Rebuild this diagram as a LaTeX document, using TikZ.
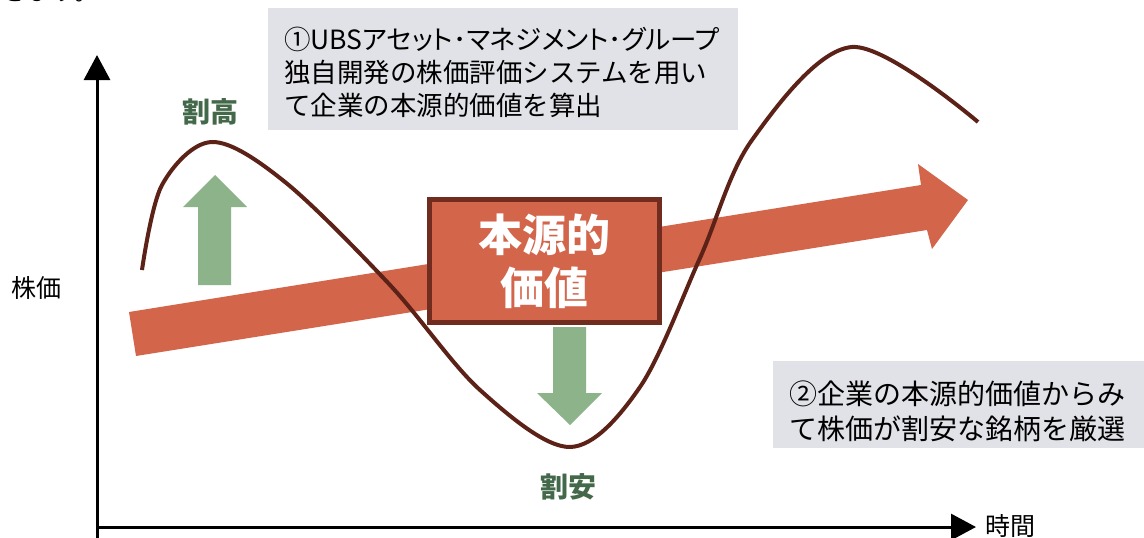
\documentclass[tikz,border=0pt]{standalone}
\usepackage{fontspec}
\setmainfont{Noto Sans CJK JP}
\usetikzlibrary{arrows.meta}
\definecolor{orangeC}{HTML}{D2654A}
\definecolor{borderC}{HTML}{6F2C1F}
\definecolor{curveC}{HTML}{5C2217}
\definecolor{greenA}{HTML}{8DB38B}
\definecolor{greenT}{HTML}{44694A}
\definecolor{grayBox}{HTML}{E1E2E7}
\tikzset{
  axis/.style={line width=3pt, -{Triangle[length=25pt,width=26pt]}},
  infobox/.style={fill=grayBox, draw=none},
  infotext/.style={align=left, inner sep=0pt, font=\fontsize{26.5}{33}\selectfont},
  greenlabel/.style={text=greenT, font=\fontsize{28}{30}\selectfont\bfseries},
  axislabel/.style={font=\fontsize{25}{27}\selectfont, inner sep=0pt},
  greenarrow/.style={fill=greenA, draw=none},
}
\begin{document}
\begin{tikzpicture}[x=1pt,y=-1pt]
\useasboundingbox (0,0) rectangle (1144,538);
\clip (0,0) rectangle (1144,538);
% cut-off text at top
\node[anchor=base west, inner sep=0pt, font=\fontsize{25}{27}\selectfont] (topfrag) at (2,0) {きます。};
% info boxes
\fill[infobox] (268,8) rectangle (738,130);
\node[infotext, anchor=west] (info1) at (284,72) {{\addfontfeature{RawFeature=+palt}①UBSアセット･マネジメント･グループ}\\独自開発の株価評価システムを用い\\て企業の本源的価値を算出};
\fill[infobox] (773,361) rectangle (1144,448);
\node[infotext, anchor=west, font=\fontsize{28}{35}\selectfont] (info2) at (789,411) {②企業の本源的価値からみ\\て株価が割安な銘柄を厳選};
% axes
\coordinate (origin) at (97,527);
\coordinate (ytip) at (97,55);
\coordinate (xtip) at (976,527);
\draw[axis] (97,538) -- (ytip);
\draw[axis] (97,527) -- (xtip);
\node[axislabel, anchor=west] (xlab) at (985,526) {時間};
\node[axislabel] (ylab) at (37,288) {株価};
% big orange arrow
\fill[orangeC] (129,312) -- (921,185) -- (918,164) -- (968,200) -- (932,249) -- (927,230) -- (136,356) -- cycle;
% curve
\draw[curveC, line width=4pt, line cap=butt] plot[smooth, tension=0.55] coordinates {
  (142,270) (162,185) (212,142) (285,182) (390,285) (480,390) (570,447) (640,387) (700,258) (752,140) (852,47) (978,122)};
% green arrows
\fill[greenA] (198,285) -- (198,207) -- (183,207) -- (215,175) -- (247,207) -- (231,207) -- (231,285) -- cycle;
\fill[greenA] (553,327) -- (553,393) -- (537,393) -- (570,425) -- (602,393) -- (586,393) -- (586,327) -- cycle;
\node[greenlabel] (high) at (210,112) {割高};
\node[greenlabel] (low) at (568,487) {割安};
% center box
\node[fill=orangeC, draw=borderC, line width=5pt, minimum width=230pt, minimum height=123pt, align=center, text=white, font=\fontsize{44}{53}\selectfont\bfseries, inner sep=0pt] (value) at (544.5,261) {本源的\\価値};
\end{tikzpicture}
\end{document}
